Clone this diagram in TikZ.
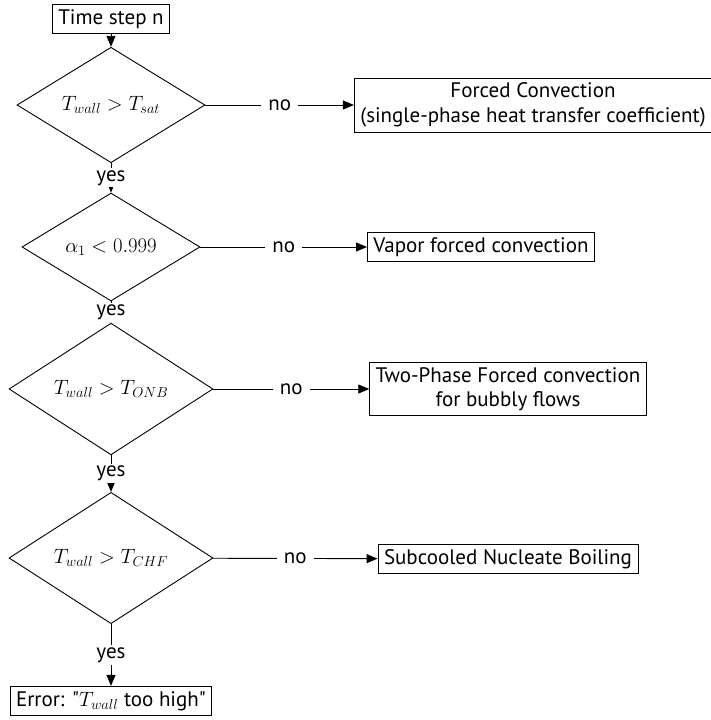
\documentclass[tikz,border=0pt]{standalone}
\usepackage{fontspec}
\setmainfont{PT Sans}
\newfontfamily\qfont{PT Sans}[Ligatures=TeXOff]
\usetikzlibrary{shapes.geometric,arrows.meta}
\begin{document}
\begin{tikzpicture}[x=1pt,y=1pt,
  font=\fontsize{21}{24.5}\selectfont,
  line width=0.9pt,
  box/.style={draw,rectangle,inner xsep=6pt,inner ysep=5pt,align=center},
  decision/.style={draw,diamond,inner sep=0pt,font=\fontsize{22.5}{27}\selectfont},
  flow/.style={-{Triangle[length=11pt,width=9pt]}},
  lbl/.style={fill=white,inner xsep=7pt,inner ysep=2pt}]
\useasboundingbox (0,0) rectangle (710,-720);

\node[box] (start) at (111,-19) {Time step n};
\node[decision,minimum width=188pt,minimum height=93pt] (d1) at (111,-105) {$T_{wall} > T_{sat}$};
\node[decision,minimum width=178pt,minimum height=87pt] (d2) at (111,-247) {$\alpha_1 < 0.999$};
\node[decision,minimum width=204pt,minimum height=102pt] (d3) at (111,-389) {$T_{wall} > T_{ONB}$};
\node[decision,minimum width=204pt,minimum height=101pt] (d4) at (111,-558) {$T_{wall} > T_{CHF}$};
\node[box] (err) at (111,-701) {Error: {\qfont"}$T_{wall}$ too high{\qfont"}};

\node[box] (b1) at (533,-105) {Forced Convection\\(single-phase heat transfer coefficient)};
\node[box] (b2) at (481,-247) {Vapor forced convection};
\node[box] (b3) at (508,-389) {Two-Phase Forced convection\\for bubbly flows};
\node[box] (b4) at (508,-559) {Subcooled Nucleate Boiling};

\draw[flow] (start) -- (d1);
\draw[flow] (d1) -- node[lbl] {yes} (d2);
\draw[flow] (d2) -- node[lbl] {yes} (d3);
\draw[flow] (d3) -- node[lbl] {yes} (d4);
\draw[flow] (d4) -- node[lbl] {yes} (err);

\draw[flow] (d1) -- node[lbl] {no} (b1);
\draw[flow] (d2) -- node[lbl] {no} (b2);
\draw[flow] (d3) -- node[lbl] {no} (b3);
\draw[flow] (d4) -- node[lbl] {no} (b4);
\end{tikzpicture}
\end{document}
